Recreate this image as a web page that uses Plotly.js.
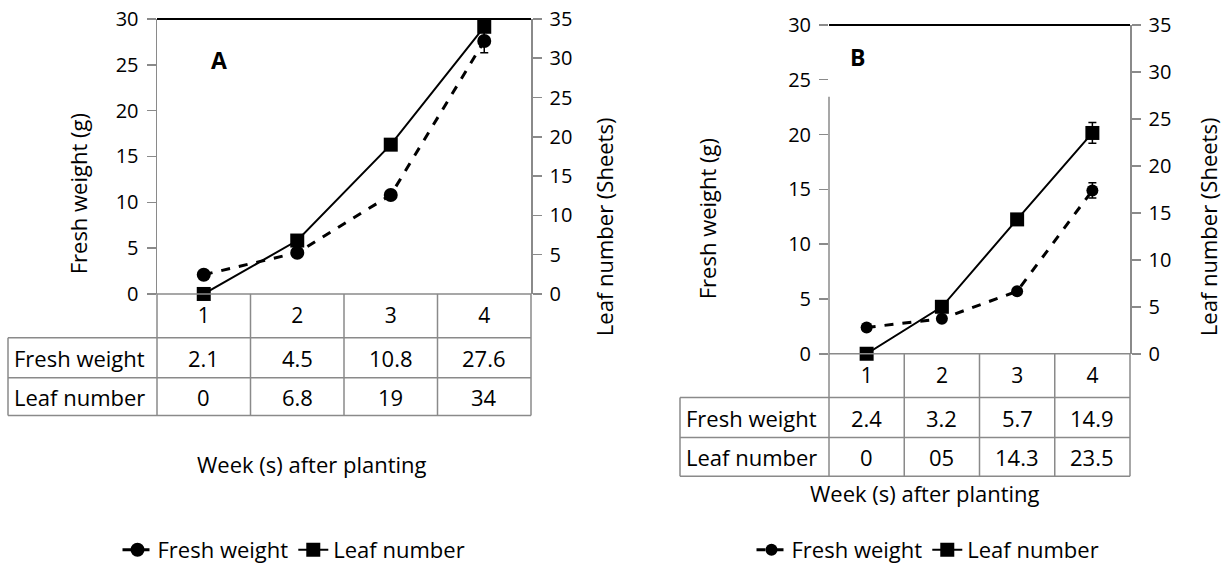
<!DOCTYPE html>
<html>
<head>
<meta charset="utf-8">
<script src="https://cdn.plot.ly/plotly-3.0.1.min.js"></script>
<style>
html,body{margin:0;padding:0;background:#fff;}
#chart{width:1224px;height:571px;}
</style>
</head>
<body>
<div id="chart"></div>
<script>
// ---- data ----
var weeks = [1, 2, 3, 4];
var weekLabels = ['1', '2', '3', '4'];
var freshA = [2.1, 4.5, 10.8, 27.6];
var leafA = [0, 6.8, 19, 34];
var freshErrA = [0, 0, 0, 1.3];
var leafErrA = [0, 0, 0, 1.4];
var freshB = [2.4, 3.2, 5.7, 14.9];
var leafB = [0, 5, 14.3, 23.5];
var freshErrB = [0, 0, 0, 0.7];
var leafErrB = [0, 0, 0, 1.1];
var freshTextA = ['2.1', '4.5', '10.8', '27.6'];
var leafTextA = ['0', '6.8', '19', '34'];
var freshTextB = ['2.4', '3.2', '5.7', '14.9'];
var leafTextB = ['0', '05', '14.3', '23.5'];
var rowLabels = ['Fresh weight', 'Leaf number'];
var seriesNames = ['Fresh weight', 'Leaf number'];
var panelLabels = ['A', 'B'];

// ---- geometry (pixels) ----
var W = 1224, H = 571;
function px(x) { return x / W; }
function py(y) { return 1 - y / H; }
var FONT = 'Open Sans, Noto Sans, sans-serif';
var GRAY = '#8a8a8a';
var TXT = 22;

var P = {
  A: {left: 157, right: 531, top: 19, bottom: 295, tLeft: 8, rows: [339, 379, 417], ytitleL: [78, 195], ytitleR: [604, 228], xtitle: [312, 466], label: [219, 60], legend: 294},
  B: {left: 829, right: 1130, top: 25, bottom: 355, tLeft: 680, rows: [399, 439, 478], ytitleL: [707, 219], ytitleR: [1208, 228], xtitle: [925, 495], label: [857, 57], legend: 928}
};

var xr = [0.5, 4.5];

function trace(x, y, err, name, xa, ya, dashed, msize, legend, symbol) {
  return {
    x: x, y: y, type: 'scatter', mode: 'lines+markers', name: name,
    xaxis: xa, yaxis: ya, legend: legend, cliponaxis: false,
    line: {color: '#000', width: dashed ? 3 : 2, dash: dashed ? 'dash' : 'solid'},
    marker: {color: '#000', size: msize, symbol: symbol},
    error_y: {type: 'data', array: err, visible: true, color: '#000', thickness: 1.5, width: 4}
  };
}

var data = [
  trace(weeks, freshA, freshErrA, seriesNames[0], 'x', 'y', true, 14, 'legend', 'circle'),
  trace(weeks, leafA, leafErrA, seriesNames[1], 'x', 'y2', false, 14, 'legend', 'square'),
  trace(weeks, freshB, freshErrB, seriesNames[0], 'x2', 'y3', true, 12, 'legend2', 'circle'),
  trace(weeks, leafB, leafErrB, seriesNames[1], 'x2', 'y4', false, 14, 'legend2', 'square')
];

function xaxis(p, anchor) {
  return {
    domain: [px(p.left), px(p.right)], range: xr, anchor: anchor,
    tickmode: 'array', tickvals: weeks, ticktext: weekLabels, ticks: '',
    showline: false, showgrid: false, zeroline: false, fixedrange: true,
    tickfont: {family: FONT, size: 21, color: '#000'}, ticklabelstandoff: 7
  };
}
function yaxis(p, anchor, range, dtick, side, overlay, showline) {
  var a = {
    domain: [py(p.bottom), py(p.top)], range: range, dtick: dtick, anchor: anchor, side: side,
    ticks: 'outside', ticklen: 9, tickcolor: GRAY, tickwidth: 1.5,
    showline: showline, linecolor: GRAY, linewidth: 1.5,
    showgrid: false, zeroline: false, fixedrange: true,
    tickfont: {family: FONT, size: 20, color: '#000'}, ticklabelstandoff: 4
  };
  if (overlay) a.overlaying = overlay;
  return a;
}

var shapes = [];
var annotations = [];

function panel(key, xa, xTexts, yTexts, idx) {
  var p = P[key];
  var colX = function (b) { return px(p.left) + (b - xr[0]) / (xr[1] - xr[0]) * (px(p.right) - px(p.left)); };
  var line = {color: GRAY, width: 1.5};
  shapes.push({type: 'line', xref: 'paper', yref: 'paper', x0: px(p.left), x1: px(p.right), y0: py(p.top), y1: py(p.top), line: {color: '#000', width: 2}});
  shapes.push({type: 'line', xref: 'paper', yref: 'paper', x0: px(p.left), x1: px(p.right), y0: py(p.bottom), y1: py(p.bottom), line: line});
  for (var i = 0; i <= weeks.length; i++) {
    var b = weeks[0] - 0.5 + i;
    shapes.push({type: 'line', xref: 'paper', yref: 'paper', x0: colX(b), x1: colX(b), y0: py(p.bottom), y1: py(p.rows[2]), line: line});
  }
  for (var r = 0; r < p.rows.length; r++) {
    shapes.push({type: 'line', xref: 'paper', yref: 'paper', x0: px(p.tLeft), x1: px(p.right), y0: py(p.rows[r]), y1: py(p.rows[r]), line: line});
  }
  shapes.push({type: 'line', xref: 'paper', yref: 'paper', x0: px(p.tLeft), x1: px(p.tLeft), y0: py(p.rows[0]), y1: py(p.rows[2]), line: line});
  var rowsT = [xTexts, yTexts];
  var rowTop = [p.rows[0], p.rows[1]];
  var rowBot = [p.rows[1], p.rows[2]];
  for (var r2 = 0; r2 < 2; r2++) {
    var yc = py((rowTop[r2] + rowBot[r2]) / 2);
    annotations.push({xref: 'paper', yref: 'paper', x: px(p.tLeft + 4), y: yc, xanchor: 'left', yanchor: 'middle', text: rowLabels[r2], showarrow: false, font: {family: FONT, size: TXT, color: '#000'}});
    for (var c = 0; c < weeks.length; c++) {
      annotations.push({xref: 'paper', yref: 'paper', x: colX(weeks[c]), y: yc, xanchor: 'center', yanchor: 'middle', text: rowsT[r2][c], showarrow: false, font: {family: FONT, size: TXT, color: '#000'}});
    }
  }
  annotations.push({xref: 'paper', yref: 'paper', x: px(p.ytitleL[0]), y: py(p.ytitleL[1]), xanchor: 'center', yanchor: 'middle', textangle: -90, text: 'Fresh weight (g)', showarrow: false, font: {family: FONT, size: TXT, color: '#000'}});
  annotations.push({xref: 'paper', yref: 'paper', x: px(p.ytitleR[0]), y: py(p.ytitleR[1]), xanchor: 'center', yanchor: 'middle', textangle: -90, text: 'Leaf number (Sheets)', showarrow: false, font: {family: FONT, size: TXT, color: '#000'}});
  annotations.push({xref: 'paper', yref: 'paper', x: px(p.xtitle[0]), y: py(p.xtitle[1]), xanchor: 'center', yanchor: 'middle', text: 'Week (s) after planting', showarrow: false, font: {family: FONT, size: TXT, color: '#000'}});
  annotations.push({xref: 'paper', yref: 'paper', x: px(p.label[0]), y: py(p.label[1]), xanchor: 'center', yanchor: 'middle', text: '<b>' + panelLabels[idx] + '</b>', showarrow: false, font: {family: FONT, size: 23, color: '#000'}});
}

panel('A', 'x', freshTextA, leafTextA, 0);
panel('B', 'x2', freshTextB, leafTextB, 1);
shapes.push({type: 'line', xref: 'paper', yref: 'paper', x0: px(P.B.left), x1: px(P.B.left), y0: py(P.B.bottom), y1: py(97), line: {color: GRAY, width: 1.5}});

var layout = {
  width: W, height: H,
  margin: {l: 0, r: 0, t: 0, b: 0},
  paper_bgcolor: '#fff', plot_bgcolor: 'rgba(0,0,0,0)',
  font: {family: FONT, size: 20, color: '#000'},
  xaxis: xaxis(P.A, 'y'),
  yaxis: yaxis(P.A, 'x', [0, 30], 5, 'left', null, true),
  yaxis2: yaxis(P.A, 'x', [0, 35], 5, 'right', 'y', true),
  xaxis2: xaxis(P.B, 'y3'),
  yaxis3: yaxis(P.B, 'x2', [0, 30], 5, 'left', null, false),
  yaxis4: yaxis(P.B, 'x2', [0, 35], 5, 'right', 'y3', true),
  legend: {orientation: 'h', x: px(P.A.legend), xanchor: 'center', y: py(552), yanchor: 'middle', font: {family: FONT, size: TXT, color: '#000'}, bgcolor: 'rgba(0,0,0,0)', itemwidth: 30},
  legend2: {orientation: 'h', x: px(P.B.legend), xanchor: 'center', y: py(552), yanchor: 'middle', font: {family: FONT, size: TXT, color: '#000'}, bgcolor: 'rgba(0,0,0,0)', itemwidth: 30},
  shapes: shapes,
  annotations: annotations,
  showlegend: true
};

Plotly.newPlot('chart', data, layout, {displayModeBar: false, staticPlot: true});
</script>
</body>
</html>
